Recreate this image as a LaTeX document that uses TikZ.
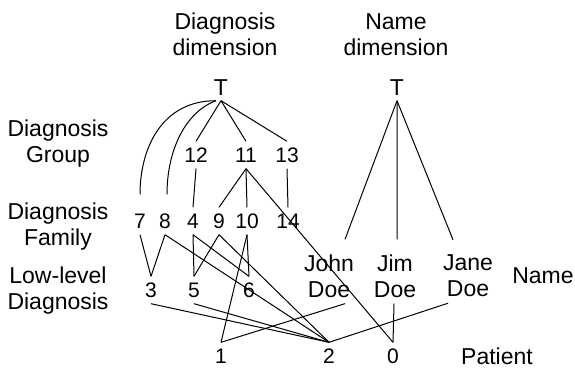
\documentclass[tikz,border=0pt]{standalone}
\usepackage{fontspec}
\setmainfont{Liberation Sans}
\begin{document}
\begin{tikzpicture}[x=1bp,y=-1bp,
  every node/.style={inner sep=0pt},
  lbl/.style={font=\fontsize{23bp}{26bp}\selectfont, align=center, anchor=base},
  num/.style={font=\fontsize{21bp}{25bp}\selectfont, minimum height=27bp,
              text height=15bp, text depth=0pt},
  top/.style={font=\fontsize{23bp}{25bp}\selectfont, minimum height=27bp,
              text height=16.5bp, text depth=0pt},
  person/.style={font=\fontsize{23bp}{26bp}\selectfont, align=center},
  link/.style={line width=1bp}]
\useasboundingbox (0,0) rectangle (575,368);

% column titles and level labels (placed by the baseline of their last line)
\node[lbl] (tdiag) at (225,55) {Diagnosis\\dimension};
\node[lbl] (tname) at (396,55) {Name\\dimension};
\node[lbl] (lgroup) at (58,162) {Diagnosis\\Group};
\node[lbl] (lfamily) at (58,245) {Diagnosis\\Family};
\node[lbl] (llow) at (58,309) {Low-level\\Diagnosis};
\node[lbl] (lname) at (543,283) {Name};
\node[lbl] (lpatient) at (497,364) {Patient};

% diagnosis dimension
\node[top] (dT) at (221,87) {T};
\node[num] (d12) at (196,155) {12};
\node[num] (d11) at (246,155) {11};
\node[num] (d13) at (287,155) {13};
\node[num] (d7) at (140,221) {7};
\node[num] (d8) at (165,221) {8};
\node[num] (d4) at (193,221) {4};
\node[num] (d9) at (219,221) {9};
\node[num] (d10) at (247,221) {10};
\node[num] (d14) at (288,221) {14};
\node[num] (d3) at (151,290) {3};
\node[num] (d5) at (194,290) {5};
\node[num] (d6) at (249,290) {6};

% name dimension
\node[top] (nT) at (397,87) {T};
\node[person] (john) at (329,276) {John\\Doe};
\node[person] (jim) at (395,276) {Jim\\Doe};
\node[person] (jane) at (468,276) {Jane\\Doe};

% patients
\node[num] (p1) at (221,356) {1};
\node[num] (p2) at (329,356) {2};
\node[num] (p0) at (393,356) {0};

% diagnosis hierarchy
\draw[link] ([xshift=-5bp]dT.south) .. controls +(-55,0) and +(0,-45) .. ([yshift=13bp]d7.north);
\draw[link] ([xshift=-5bp]dT.south) .. controls +(-30,11) and +(0,-45) .. ([yshift=13bp,xshift=2bp]d8.north);
\draw[link] (dT.south) -- (d12.north);
\draw[link] (dT.south) -- (d11.north);
\draw[link] (dT.south) -- (d13.north);
\draw[link] (d12.south) -- (d4.north);
\draw[link] (d11.south) -- (d9.north);
\draw[link] (d11.south) -- (d10.north);
\draw[link] (d13.south) -- (d14.north);
\draw[link] (d7.south) -- (d3.north);
\draw[link] (d8.south) -- (d3.north);
\draw[link] (d4.south) -- (d5.north);
\draw[link] (d4.south) -- (d6.north);
\draw[link] (d9.south) -- (d5.north);
\draw[link] (d10.south) -- (d6.north);

% diagnoses of each patient
\draw[link] (d11.south) -- (p0.north);
\draw[link] (d8.south) -- (p2.north);
\draw[link] (d9.south) -- (p2.north);
\draw[link] (d10.south) -- (p1.north);
\draw[link] (d3.south) -- (p2.north);
\draw[link] (d5.south) -- (p2.north);

% name hierarchy and names of patients
\draw[link] (nT.south) -- ([yshift=15bp,xshift=16bp]john.north);
\draw[link] (nT.south) -- ([yshift=15bp,xshift=2bp]jim.north);
\draw[link] (nT.south) -- ([yshift=15bp,xshift=-15bp]jane.north);
\draw[link] ([yshift=-6bp,xshift=16bp]john.south) -- (p1.north);
\draw[link] ([yshift=-6bp,xshift=-1bp]jim.south) -- (p0.north);
\draw[link] ([yshift=-6bp,xshift=-20bp]jane.south) -- (p2.north);
\end{tikzpicture}
\end{document}
